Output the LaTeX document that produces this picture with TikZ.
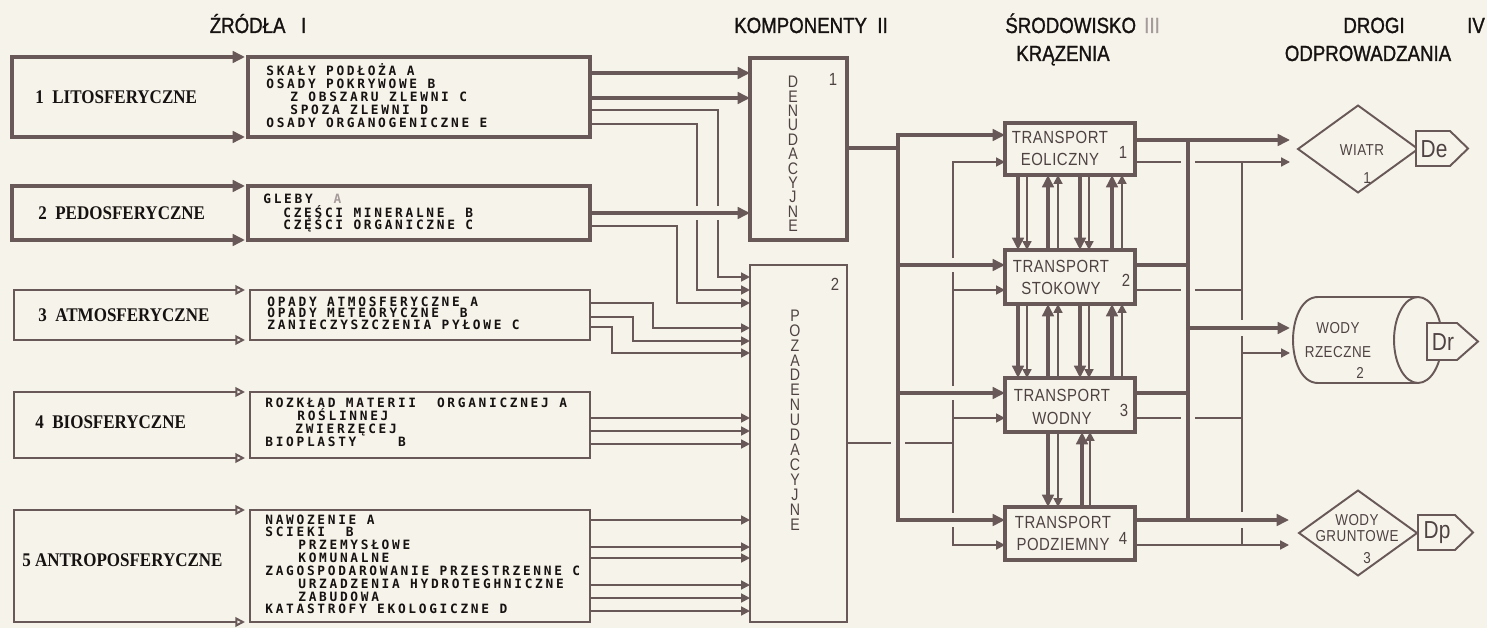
\documentclass[tikz,border=0pt]{standalone}
\usepackage{fontspec}
\setmainfont{Liberation Sans}
\newfontfamily\listfont{DejaVu Sans Mono}[BoldFont={DejaVu Sans Mono Bold}, LetterSpace=21]
\newfontfamily\srcfont{Liberation Serif}[FakeStretch=0.88]
\newfontfamily\narrowfont{Liberation Sans}[FakeStretch=0.85]
\newfontfamily\headfont{Liberation Sans}[FakeStretch=0.85,FakeBold=1.2]
\newfontfamily\techfont{Liberation Sans}[FakeStretch=0.85,LetterSpace=3]
\usetikzlibrary{arrows.meta,positioning,fit,shapes.geometric}

\definecolor{bg}{RGB}{246,244,234}
\definecolor{ln}{RGB}{104,88,88}
\definecolor{txt}{RGB}{22,18,18}
\definecolor{gtxt}{RGB}{78,66,66}
\definecolor{faint}{RGB}{165,155,155}

\tikzset{
  thk/.style={draw=ln, line width=2.5pt},
  thn/.style={draw=ln, line width=1.1pt},
  tipT/.style={-{Triangle[length=7pt,width=6.5pt]}},
  tipt/.style={-{Triangle[length=5pt,width=5pt]}},
  srcT/.style={{Triangle[length=7pt,width=6.5pt]}-{Triangle[length=7pt,width=6.5pt]}},
  srco/.style={{Triangle[open,length=5.5pt,width=5.5pt,fill=bg]}-{Triangle[open,length=5.5pt,width=5.5pt,fill=bg]}},
  bare/.style={inner sep=0pt, outer sep=0pt},
  boxT/.style={bare, thk},
  boxt/.style={bare, thn},
  srclab/.style={anchor=west, inner sep=0pt, text=txt, font=\srcfont\bfseries\fontsize{11}{12}\selectfont},
  lst/.style={anchor=base west, inner sep=0pt, text=txt, font=\listfont\bfseries\fontsize{7.3}{8}\selectfont},
  heading/.style={anchor=base, inner sep=0pt, text=txt, font=\headfont\fontsize{12.5}{14}\selectfont},
  vtxt/.style={align=center, inner sep=0pt, text=gtxt},
  trtxt/.style={align=center, inner sep=0pt, text=gtxt, font=\techfont\fontsize{10}{13}\selectfont},
  rshape/.style={draw=ln, line width=1.1pt, fill=bg, inner sep=0pt, outer sep=0pt},
  rtxt/.style={align=center, inner sep=0pt, text=gtxt, font=\techfont\fontsize{9}{9}\selectfont},
  dtxt/.style={inner sep=0pt, text=gtxt, font=\narrowfont\fontsize{14}{14}\selectfont},
}

\begin{document}
\begin{tikzpicture}[x=0.02cm, y=-0.02cm]
  \fill[bg] (0,0) rectangle (1487,628);
  \useasboundingbox (0,0) rectangle (1487,628);

  % column headings
  \node[heading] (h1) at (258,33) {ŹRÓDŁA~~~I};
  \node[heading] (h2) at (811,33) {KOMPONENTY~~II};
  \node[heading, anchor=base west] (h3) at (1005,33) {ŚRODOWISKO};
  \node[heading, text=faint] (h3n) at (1152,33) {III};
  \node[heading] (h3b) at (1063,61) {KRĄZENIA};
  \node[heading] (h4) at (1374,33) {DROGI};
  \node[heading] (h4n) at (1476,33) {IV};
  \node[heading] (h4b) at (1368,61) {ODPROWADZANIA};

  % sources I
  \node[bare, fit={(12,57) (245,137)}] (s1) {};
  \node[bare, fit={(12,186) (245,240)}] (s2) {};
  \node[bare, fit={(14,290) (245,340)}] (s3) {};
  \node[bare, fit={(14,392) (245,458)}] (s4) {};
  \node[bare, fit={(14,510) (245,622)}] (s5) {};
  \foreach \s in {s1,s2}
    \draw[thk,srcT] (\s.north east) -- (\s.north west) -- (\s.south west) -- (\s.south east);
  \foreach \s in {s3,s4,s5}
    \draw[thn,srco] (\s.north east) -- (\s.north west) -- (\s.south west) -- (\s.south east);
  \node[srclab] (l1) at (35,97) {1~~LITOSFERYCZNE};
  \node[srclab] (l2) at (38,213) {2~~PEDOSFERYCZNE};
  \node[srclab] (l3) at (38,315) {3~~ATMOSFERYCZNE};
  \node[srclab] (l4) at (35,422) {4~~BIOSFERYCZNE};
  \node[srclab] (l5) at (22,560) {5 ANTROPOSFERYCZNE};

  % lists of the sources
  \node[boxT, fit={(248,57) (590,137)}] (t1) {};
  \node[boxT, fit={(248,186) (590,240)}] (t2) {};
  \node[boxt, fit={(250,290) (590,340)}] (t3) {};
  \node[boxt, fit={(250,392) (590,458)}] (t4) {};
  \node[boxt, fit={(250,510) (590,622)}] (t5) {};
  \foreach \dx/\tx [count=\i from 0] in {0/SKAŁY PODŁOŻA A, 0/OSADY POKRYWOWE B,
      24/Z OBSZARU ZLEWNI C, 24/SPOZA ZLEWNI D, 0/OSADY ORGANOGENICZNE E}
    \node[lst] (t1l\i) at (266+\dx,76+13*\i) {\tx};
  \foreach \dx/\tx [count=\i from 0] in {0/GLEBY~~{\color{faint}A},
      20/CZĘŚCI MINERALNE~~B, 20/CZĘŚCI ORGANICZNE C}
    \node[lst] (t2l\i) at (263+\dx,204+13*\i) {\tx};
  \foreach \dx/\tx [count=\i from 0] in {0/OPADY ATMOSFERYCZNE A,
      0/OPADY METEORYCZNE~~B, 0/ZANIECZYSZCZENIA PYŁOWE C}
    \node[lst] (t3l\i) at (267+\dx,306+11.5*\i) {\tx};
  \foreach \dx/\tx [count=\i from 0] in {0/ROZKŁAD MATERII~~ORGANICZNEJ A,
      32/ROŚLINNEJ, 30/ZWIERZĘCEJ, 0/BIOPLASTY~~~~B}
    \node[lst] (t4l\i) at (265+\dx,407+13*\i) {\tx};
  \foreach \dx/\tx [count=\i from 0] in {0/NAWOZENIE A, 0/SCIEKI~~B, 33/PRZEMYSŁOWE,
      33/KOMUNALNE, 0/ZAGOSPODAROWANIE PRZESTRZENNE C, 33/URZADZENIA HYDROTEGHNICZNE,
      33/ZABUDOWA, 0/KATASTROFY EKOLOGICZNE D}
    \node[lst] (t5l\i) at (265+\dx,524+12.85*\i) {\tx};

  % components II
  \node[boxT, fit={(750,58) (847,240)}] (k1) {};
  \node[boxt, fit={(750,265) (847,622)}] (k2) {};
  \node[trtxt] (k1n) at (833,79) {1};
  \node[trtxt] (k2n) at (835,284) {2};
  \node[vtxt, font=\narrowfont\fontsize{9.5}{8.2}\selectfont] (k1v) at (793,154)
    {D\\E\\N\\U\\D\\A\\C\\Y\\J\\N\\E};
  \node[vtxt, font=\narrowfont\fontsize{9.5}{8.5}\selectfont] (k2v) at (795,420)
    {P\\O\\Z\\A\\D\\E\\N\\U\\D\\A\\C\\Y\\J\\N\\E};

  % sources -> components
  \foreach \y in {73,98}
    \draw[thk,tipT] (t1.east |- 0,\y) -- (k1.west |- 0,\y);
  \draw[thn] (t1.east |- 0,110) -| (718,206);
  \draw[thn,tipt] (718,220) |- (k2.west |- 0,277);
  \draw[thn] (t1.east |- 0,124) -| (697,206);
  \draw[thn,tipt] (697,220) |- (k2.west |- 0,290);
  \draw[thk,tipT] (t2.east |- 0,213) -- (k1.west |- 0,213);
  \draw[thn,tipt] (t2.east |- 0,226) -| (677,303) -- (k2.west |- 0,303);
  \draw[thn,tipt] (t3.east |- 0,303) -| (653,328) -- (k2.west |- 0,328);
  \draw[thn,tipt] (t3.east |- 0,317) -| (633,341) -- (k2.west |- 0,341);
  \draw[thn,tipt] (t3.east |- 0,327) -| (612,353) -- (k2.west |- 0,353);
  \foreach \y in {418,431,444}
    \draw[thn,tipt] (t4.east |- 0,\y) -- (k2.west |- 0,\y);
  \foreach \y in {520,547,558,585,598,611}
    \draw[thn,tipt] (t5.east |- 0,\y) -- (k2.west |- 0,\y);

  % circulation environment III
  \node[boxT, fit={(1005,123) (1135,175)}] (tr1) {};
  \node[boxT, fit={(1005,250) (1135,304)}] (tr2) {};
  \node[boxT, fit={(1005,378) (1135,432)}] (tr3) {};
  \node[boxT, fit={(1005,507) (1135,560)}] (tr4) {};
  \node[trtxt] (tr1t) at (1060,148.5) {TRANSPORT\\EOLICZNY};
  \node[trtxt] (tr2t) at (1061,277.5) {TRANSPORT\\STOKOWY};
  \node[trtxt] (tr3t) at (1062,407) {TRANSPORT\\WODNY};
  \node[trtxt] (tr4t) at (1063,533.5) {TRANSPORT\\PODZIEMNY};
  \node[trtxt] (tr1n) at (1123,152) {1};
  \node[trtxt] (tr2n) at (1126,280) {2};
  \node[trtxt] (tr3n) at (1124,410) {3};
  \node[trtxt] (tr4n) at (1123,538) {4};

  % components -> transport
  \draw[thk] (k1.east |- 0,148) -- (898,148);
  \draw[thk,srcT] (tr4.west |- 0,520) -| (898,135) -- (tr1.west |- 0,135);
  \foreach \y/\t in {265/tr2,393/tr3}
    \draw[thk,tipT] (898,\y) -- (\t.west |- 0,\y);
  \draw[thn] (k2.east |- 0,443) -- (891,443) (905,443) -- (953,443);
  \draw[thn,tipt] (953,258) |- (tr1.west |- 0,162);
  \draw[thn] (953,272) -- (953,386) (953,400) -- (953,513);
  \draw[thn,tipt] (953,527) |- (tr4.west |- 0,545);
  \foreach \y/\t in {290/tr2,418/tr3}
    \draw[thn,tipt] (953,\y) -- (\t.west |- 0,\y);

  % exchange between the transports
  \foreach \a/\b in {tr1/tr2,tr2/tr3} {
    \foreach \x in {1018,1080} {
      \draw[thk,tipT] (\x,0 |- \a.south) -- (\x,0 |- \b.north);
      \draw[thn,tipt] (\x+9,0 |- \a.south) -- (\x+9,0 |- \b.north);
    }
    \foreach \x in {1048,1112} {
      \draw[thk,tipT] (\x,0 |- \b.north) -- (\x,0 |- \a.south);
      \draw[thn,tipt] (\x+10,0 |- \b.north) -- (\x+10,0 |- \a.south);
    }
  }
  \draw[thk,tipT] (1048,0 |- tr3.south) -- (1048,0 |- tr4.north);
  \draw[thn,tipt] (1058,0 |- tr3.south) -- (1058,0 |- tr4.north);
  \draw[thk,tipT] (1082,0 |- tr4.north) -- (1082,0 |- tr3.south);
  \draw[thn,tipt] (1090,0 |- tr4.north) -- (1090,0 |- tr3.south);

  % ways of removal IV
  \node[rshape, diamond, minimum width=2.4cm, minimum height=1.74cm] (wi) at (1358,149) {};
  \draw[rshape] (1418,297) -- (1318,297) .. controls (1301,297) and (1293,320) .. (1293,340)
    .. controls (1293,360) and (1301,383) .. (1318,383) -- (1418,383);
  \node[rshape, ellipse, minimum width=0.96cm, minimum height=1.72cm] (rz) at (1418,340) {};
  \coordinate (rzw) at (1298,340);
  \node[rshape, diamond, minimum width=2.36cm, minimum height=1.7cm] (gr) at (1358,533) {};
  \draw[rshape] (1416,131) -- (1450,131) -- (1468,148.5) -- (1450,166) -- (1416,166) -- cycle;
  \draw[rshape] (1427,323) -- (1457,323) -- (1478,341.5) -- (1457,360) -- (1427,360) -- cycle;
  \draw[rshape] (1418,515) -- (1455,515) -- (1473,532.5) -- (1455,550) -- (1418,550) -- cycle;
  \node[dtxt] (de) at (1434,149) {De};
  \node[dtxt] (dr) at (1443,342) {Dr};
  \node[dtxt] (dp) at (1437,533) {Dp};
  \node[rtxt] (wit) at (1362,150) {WIATR};
  \node[rtxt] (win) at (1367,178) {1};
  \node[rtxt, font=\techfont\fontsize{9}{14}\selectfont] (rzt) at (1338,340) {WODY\\RZECZNE};
  \node[rtxt] (rzn) at (1360,373) {2};
  \node[rtxt] (grt) at (1357,528) {WODY\\GRUNTOWE};
  \node[rtxt] (grn) at (1367,558) {3};

  % transport -> ways of removal
  \draw[thk,tipT,shorten >=0.16cm] (tr1.east |- 0,140) -- (wi.west |- 0,140);
  \draw[thk] (1188,140) -- (1188,520);
  \foreach \y/\t in {265/tr2,393/tr3}
    \draw[thk] (\t.east |- 0,\y) -- (1188,\y);
  \draw[thk,tipT,shorten >=0.16cm] (1188,328) -- (rzw |- 0,328);
  \draw[thk,tipT,shorten >=0.2cm] (tr4.east |- 0,520) -- (gr.west |- 0,520);
  \draw[thn] (tr1.east |- 0,162) -- (1181,162);
  \draw[thn,tipt,shorten >=0.16cm] (1195,162) -- (wi.west |- 0,162);
  \foreach \y/\t in {290/tr2,418/tr3}
    \draw[thn] (\t.east |- 0,\y) -- (1181,\y) (1195,\y) -- (1242,\y);
  \draw[thn] (1242,162) -- (1242,320) (1242,336) -- (1242,512) (1242,528) -- (1242,545);
  \draw[thn,tipt,shorten >=0.16cm] (1242,353) -- (rzw |- 0,353);
  \draw[thn,tipt,shorten >=0.2cm] (tr4.east |- 0,545) -- (gr.west |- 0,545);
\end{tikzpicture}
\end{document}
